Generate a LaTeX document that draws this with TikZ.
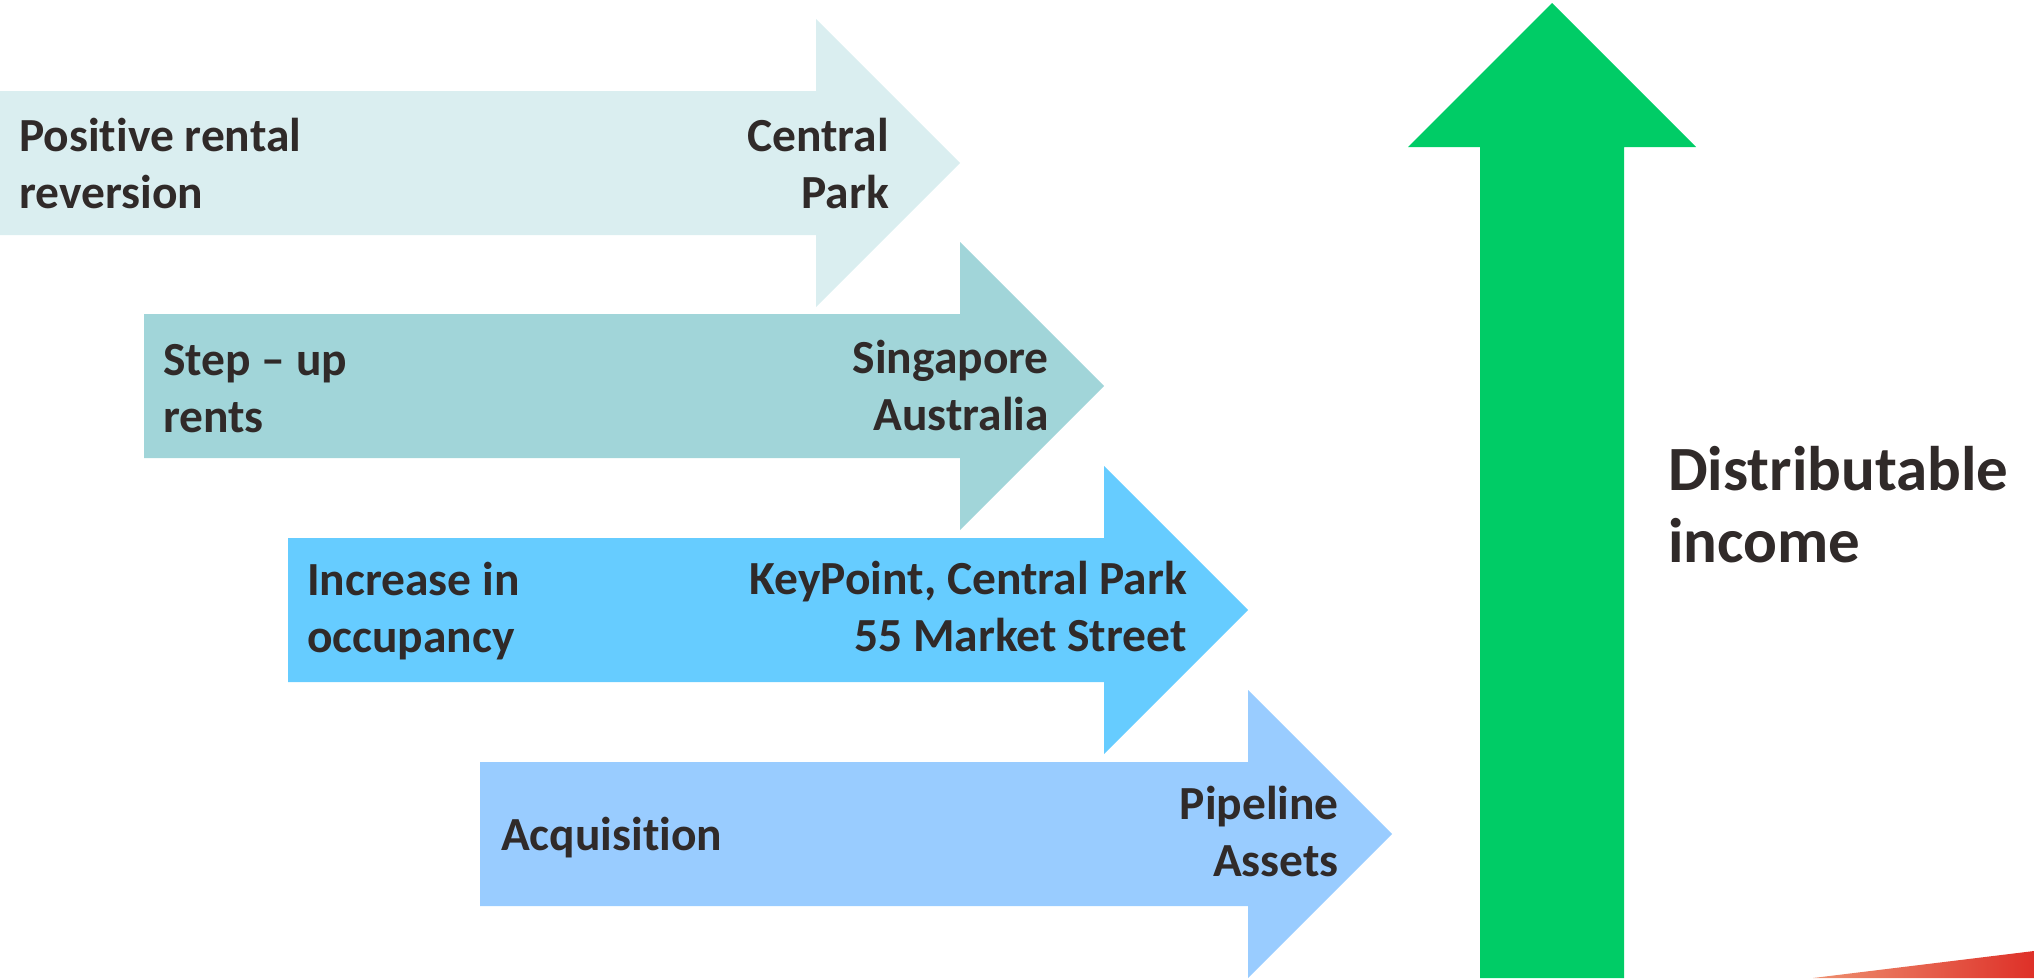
\documentclass[tikz,border=0pt]{standalone}
\usepackage{fontspec}
\setmainfont{Carlito}[Ligatures={NoCommon}]
\definecolor{aone}{HTML}{DAEEF0}
\definecolor{atwo}{HTML}{A1D5D9}
\definecolor{athree}{HTML}{66CCFF}
\definecolor{afour}{HTML}{99CCFF}
\definecolor{agreen}{HTML}{00CC66}
\definecolor{txt}{HTML}{302A29}
\definecolor{redl}{HTML}{EE9070}
\definecolor{redr}{HTML}{DE3028}
\begin{document}
\begin{tikzpicture}[x=1pt,y=-1pt,
  lbl/.style={inner sep=0pt,text=txt,font=\bfseries\fontsize{47.5}{57}\selectfont},
  lleft/.style={lbl,anchor=base west,align=left},
  lright/.style={lbl,anchor=base east,align=right},
  big/.style={inner sep=0pt,text=txt,anchor=base west,align=left,font=\bfseries\fontsize{63}{72}\selectfont}]
\useasboundingbox (0,0) rectangle (2034,978);
% horizontal arrows
\fill[aone] (0,91) -- (816,91) -- (816,19) -- (960,163) -- (816,307) -- (816,235) -- (0,235) -- cycle;
\fill[atwo] (144,314) -- (960,314) -- (960,242) -- (1104,386) -- (960,530) -- (960,458) -- (144,458) -- cycle;
\fill[athree] (288,538) -- (1104,538) -- (1104,466) -- (1248,610) -- (1104,754) -- (1104,682) -- (288,682) -- cycle;
\fill[afour] (480,762) -- (1248,762) -- (1248,690) -- (1392,834) -- (1248,978) -- (1248,906) -- (480,906) -- cycle;
% green arrow
\fill[agreen] (1480,978) -- (1480,147) -- (1408,147) -- (1552,3) -- (1696,147) -- (1624,147) -- (1624,978) -- cycle;
% red wedge
\shade[left color=redl,right color=redr] (1813,978) -- (2034,951) -- (2034,978) -- cycle;
% labels (anchored at last line's baseline)
\node[lleft] (t1) at (19,208) {Positive rental\\reversion};
\node[lright] (r1) at (889,208) {Central\\Park};
\node[lleft] (t2) at (163,432) {Step -- up\\rents};
\node[lright] (r2) at (1049,430) {Singapore\\Australia};
\node[lleft] (t3) at (307,652) {Increase in\\occupancy};
\node[lright] (r3) at (1187,651) {KeyPoint, Central Park\\55 Market Street};
\node[lleft] (t4) at (501,850) {Acquisition};
\node[lright] (r4) at (1339,876) {Pipeline\\Assets};
\node[big] (d) at (1668,562) {Distributable\\income};
\end{tikzpicture}
\end{document}
